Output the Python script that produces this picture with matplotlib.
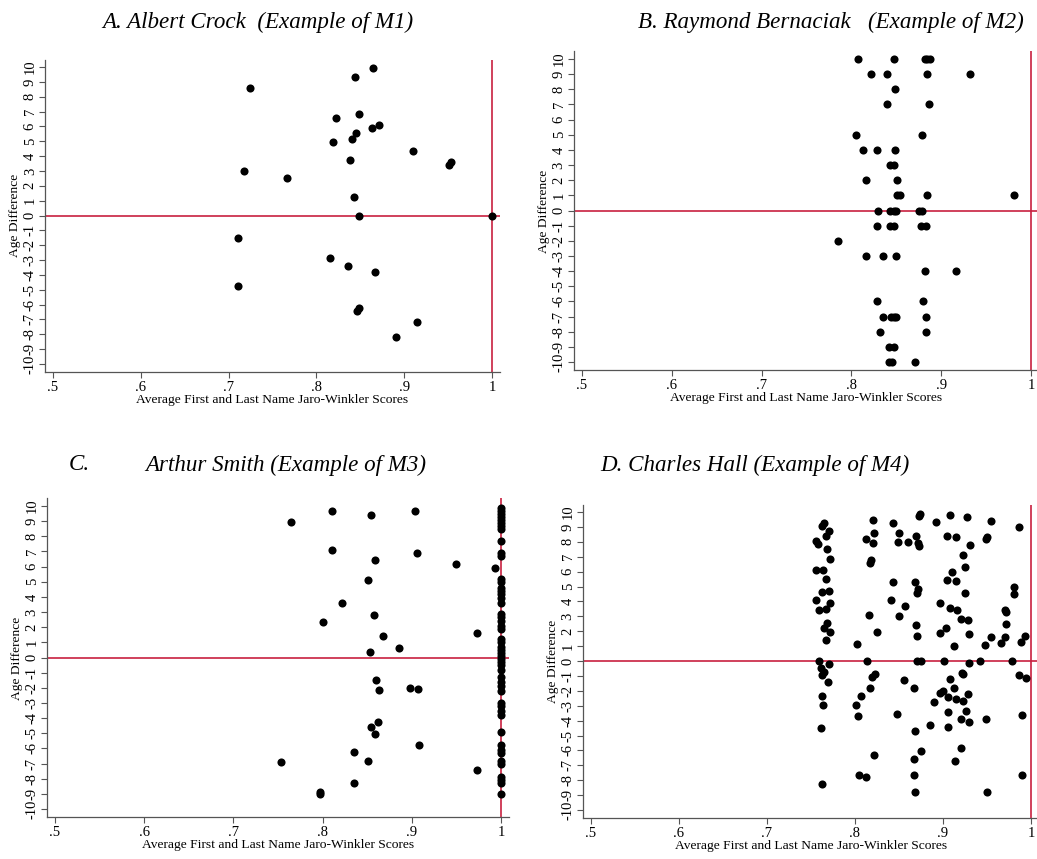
"""Four-panel scatter: age difference vs. average Jaro-Winkler score (examples M1-M4)."""

import matplotlib
matplotlib.use("Agg")
import matplotlib.pyplot as plt

plt.rcParams["font.family"] = ["Liberation Serif", "DejaVu Serif"]

RED = "#c8203f"
AXIS_GRAY = "#555555"

# ---------------------------------------------------------------------------
# Data
# ---------------------------------------------------------------------------

# A. Albert Crock (M1)
a_x = [0.864, 0.844, 0.724, 0.849, 0.822, 0.871, 0.863, 0.845, 0.841, 0.819,
       0.910, 0.953, 0.951, 0.838, 0.717, 0.766, 0.843, 0.848, 1.000, 0.711,
       0.816, 0.836, 0.867, 0.711, 0.848, 0.846, 0.915, 0.891]
a_y = [9.93, 9.33, 8.61, 6.86, 6.57, 6.07, 5.89, 5.53, 5.13, 4.95,
       4.34, 3.60, 3.40, 3.74, 2.97, 2.55, 1.25, 0.0, 0.0, -1.54,
       -2.88, -3.42, -3.80, -4.77, -6.23, -6.41, -7.17, -8.16]

# B. Raymond Bernaciak (M2)
b_x = [0.807, 0.847, 0.882, 0.884, 0.887,
       0.822, 0.840, 0.884, 0.932,
       0.848,
       0.840, 0.886,
       0.805, 0.879,
       0.813, 0.828, 0.849,
       0.843, 0.847,
       0.816, 0.851,
       0.851, 0.854, 0.884, 0.981,
       0.830, 0.843, 0.847, 0.850, 0.875, 0.879,
       0.828, 0.843, 0.847, 0.878, 0.883,
       0.785,
       0.816, 0.835, 0.850,
       0.882, 0.916,
       0.828, 0.880,
       0.835, 0.844, 0.847, 0.850, 0.883,
       0.832, 0.883,
       0.842, 0.847,
       0.842, 0.845, 0.871]
b_y = [10, 10, 10, 10, 10,
       9, 9, 9, 9,
       8,
       7, 7,
       5, 5,
       4, 4, 4,
       3, 3,
       2, 2,
       1, 1, 1, 1,
       0, 0, 0, 0, 0, 0,
       -1, -1, -1, -1, -1,
       -2,
       -3, -3, -3,
       -4, -4,
       -6, -6,
       -7, -7, -7, -7, -7,
       -8, -8,
       -9, -9,
       -10, -10, -10]

# C. Arthur Smith (M3): scattered points below 1
c_x = [0.811, 0.904, 0.854, 0.765, 0.811, 0.906, 0.859, 0.949, 0.993, 0.851,
       0.822, 0.858, 0.801, 0.973, 0.868, 0.886, 0.853, 0.860, 0.863, 0.898,
       0.907, 0.862, 0.854, 0.859, 0.908, 0.835, 0.753, 0.851, 0.973, 0.835,
       0.797, 0.797]
c_y = [9.67, 9.69, 9.38, 8.94, 7.12, 6.88, 6.41, 6.19, 5.91, 5.09,
       3.62, 2.83, 2.34, 1.62, 1.40, 0.63, 0.36, -1.46, -2.12, -1.99,
       -2.08, -4.28, -4.59, -5.03, -5.80, -6.26, -6.88, -6.86, -7.40, -8.26,
       -8.86, -8.99]
# C: exact first/last name matches stacked at a score of 1
c_exact_y = [9.9, 9.7, 9.5, 9.3, 9.1, 8.9, 8.7, 8.5, 7.7, 6.9, 6.7, 5.2, 5.0,
             4.6, 4.4, 4.2, 3.9, 3.6, 2.9, 2.7, 2.4, 2.1, 1.9, 1.2, 1.0, 0.7,
             0.5, 0.3, 0.1, -0.1, -0.3, -0.5, -0.8, -1.3, -1.6, -1.9, -2.2,
             -3.0, -3.2, -3.5, -3.8, -4.9, -5.8, -6.1, -6.3, -6.8, -7.0,
             -7.9, -8.1, -8.3, -9.0]

# D. Charles Hall (M4)
d_x = [0.765, 0.763, 0.770, 0.767, 0.756, 0.758, 0.768, 0.772, 0.756, 0.764,
       0.767, 0.762, 0.770, 0.756, 0.772, 0.759, 0.767, 0.768, 0.765, 0.772,
       0.767, 0.759, 0.771, 0.761, 0.765, 0.763, 0.769, 0.762, 0.764, 0.761,
       0.763,
       0.820, 0.822, 0.812, 0.820, 0.817, 0.818, 0.816, 0.825, 0.802, 0.814,
       0.823, 0.819, 0.817, 0.807, 0.801, 0.803, 0.822, 0.804, 0.812,
       0.843, 0.850, 0.849, 0.860, 0.869, 0.873, 0.874, 0.873, 0.872, 0.843,
       0.868, 0.872, 0.870, 0.841, 0.857, 0.850, 0.869, 0.871, 0.871, 0.875,
       0.856, 0.867, 0.848, 0.868, 0.885, 0.875, 0.867, 0.867, 0.868,
       0.892, 0.908, 0.927, 0.955, 0.904, 0.915, 0.931, 0.949, 0.950, 0.923,
       0.925, 0.910, 0.905, 0.915, 0.925, 0.897, 0.908, 0.916, 0.921, 0.928,
       0.903, 0.897, 0.929, 0.954, 0.912, 0.948, 0.901, 0.930, 0.942, 0.922,
       0.923, 0.908, 0.913, 0.900, 0.897, 0.906, 0.915, 0.923, 0.928, 0.890,
       0.906, 0.926, 0.921, 0.930, 0.906, 0.949, 0.921, 0.914, 0.950,
       0.986, 0.981, 0.981, 0.971, 0.972, 0.972, 0.970, 0.966, 0.993, 0.989,
       0.978, 0.986, 0.994, 0.990, 0.990]
d_y = [9.24, 9.06, 8.72, 8.39, 8.07, 7.85, 7.54, 6.87, 6.11, 6.11,
       5.48, 4.65, 4.72, 4.09, 3.91, 3.42, 3.47, 2.53, 2.21, 1.93,
       1.41, 0.0, -0.18, -0.45, -0.76, -0.94, -1.43, -2.33, -2.95, -4.48,
       -8.23,
       9.46, 8.61, 8.17, 7.90, 6.60, 6.78, 3.07, 1.97, 1.14, 0.0,
       -0.89, -1.07, -1.83, -2.33, -2.93, -3.69, -6.31, -7.67, -7.77,
       9.28, 8.61, 7.97, 7.97, 8.39, 9.72, 9.85, 7.74, 7.90, 5.32,
       5.28, 4.80, 4.58, 4.09, 3.69, 3.00, 2.40, 1.70, 0.0, 0.0,
       -1.28, -1.83, -3.58, -4.68, -4.32, -6.02, -6.56, -7.67, -8.77,
       9.35, 9.80, 9.69, 9.37, 8.41, 8.34, 7.79, 8.17, 8.30, 7.11,
       6.31, 5.97, 5.44, 5.37, 4.54, 3.87, 3.58, 3.42, 2.84, 2.75,
       2.24, 1.86, 1.79, 1.63, 1.01, 1.07, 0.0, -0.11, 0.0, -0.78,
       -0.90, -1.19, -1.83, -2.01, -2.15, -2.42, -2.57, -2.69, -2.19, -2.75,
       -3.40, -3.34, -3.87, -4.09, -4.41, -3.87, -5.86, -6.69, -8.77,
       9.01, 4.95, 4.48, 3.42, 3.31, 2.48, 1.61, 1.19, 1.68, 1.30,
       0.0, -0.94, -1.16, -3.60, -7.63]

x_ticks = [0.5, 0.6, 0.7, 0.8, 0.9, 1.0]
x_tick_labels = [".5", ".6", ".7", ".8", ".9", "1"]
y_ticks = list(range(-10, 11))

XLIM = (0.491, 1.009)
YLIM = (-10.55, 10.5)

FIG_W, FIG_H = 1037, 859


def place_axes(fig, x05, x1, y10, ym10):
    """Position an axes so that x=.5/1 and y=10/-10 land on given pixel spots."""
    px_per_x = (x1 - x05) / 0.5
    px_per_y = (ym10 - y10) / 20.0
    left = x05 - (0.5 - XLIM[0]) * px_per_x
    right = x1 + (XLIM[1] - 1.0) * px_per_x
    top = y10 - (YLIM[1] - 10) * px_per_y
    bottom = ym10 + (-10 - YLIM[0]) * px_per_y
    return fig.add_axes([left / FIG_W, 1 - bottom / FIG_H,
                         (right - left) / FIG_W, (bottom - top) / FIG_H])


def style_panel(ax, xs, ys):
    ax.axhline(0, color=RED, linewidth=1.2, zorder=1)
    ax.axvline(1, color=RED, linewidth=1.2, zorder=1)
    ax.scatter(xs, ys, s=34, color="black", linewidths=0, zorder=3)
    ax.set_xlim(*XLIM)
    ax.set_ylim(*YLIM)
    ax.set_xticks(x_ticks)
    ax.set_xticklabels(x_tick_labels)
    ax.set_yticks(y_ticks)
    ax.set_yticklabels([str(v) for v in y_ticks], rotation=90, va="center")
    ax.tick_params(axis="both", labelsize=10.5, length=4, width=0.8,
                   color=AXIS_GRAY, pad=2)
    for side in ("top", "right"):
        ax.spines[side].set_visible(False)
    for side in ("left", "bottom"):
        ax.spines[side].set_color(AXIS_GRAY)
        ax.spines[side].set_linewidth(0.9)
    ax.set_xlabel("Average First and Last Name Jaro-Winkler Scores",
                  fontsize=9.7, labelpad=0)
    ax.set_ylabel("Age Difference", fontsize=9.7, labelpad=2)


fig = plt.figure(figsize=(FIG_W / 100, FIG_H / 100), dpi=100)

ax_a = place_axes(fig, 53, 492, 67, 364)
style_panel(ax_a, a_x, a_y)

ax_b = place_axes(fig, 582, 1031, 59, 362)
style_panel(ax_b, b_x, b_y)

ax_c = place_axes(fig, 55, 501, 506, 809)
style_panel(ax_c, c_x + [1.0] * len(c_exact_y), c_y + c_exact_y)

ax_d = place_axes(fig, 591, 1031, 512, 810)
style_panel(ax_d, d_x, d_y)

title_kw = dict(fontsize=16.6, style="italic", va="center", ha="left")
fig.text(102 / FIG_W, 1 - 22 / FIG_H, "A. Albert Crock  (Example of M1)", **title_kw)
fig.text(638 / FIG_W, 1 - 22 / FIG_H, "B. Raymond Bernaciak   (Example of M2)", **title_kw)
fig.text(69 / FIG_W, 1 - 465 / FIG_H, "C.", **title_kw)
fig.text(145 / FIG_W, 1 - 465 / FIG_H, "Arthur Smith (Example of M3)", **title_kw)
fig.text(600 / FIG_W, 1 - 465 / FIG_H, "D. Charles Hall (Example of M4)", **title_kw)

fig.savefig("out.png", dpi=100)
